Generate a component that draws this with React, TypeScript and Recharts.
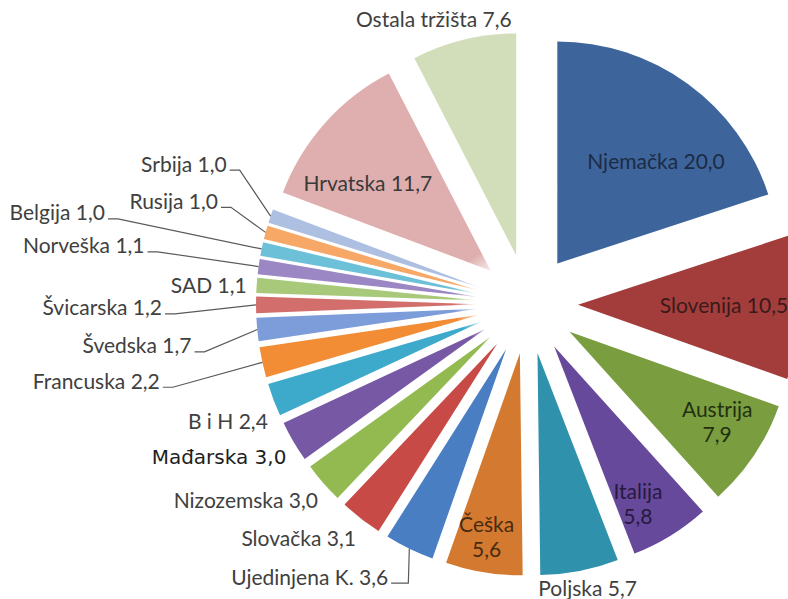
import React from 'react';
import { PieChart, Pie, Cell } from 'recharts';

// udio tržišta (%), redom u smjeru kazaljke od 12 sati
const countries = [
  'Njemačka', 'Slovenija', 'Austrija', 'Italija', 'Poljska', 'Češka',
  'Ujedinjena K.', 'Slovačka', 'Nizozemska', 'Mađarska', 'B i H', 'Francuska',
  'Švedska', 'Švicarska', 'SAD', 'Norveška', 'Belgija', 'Rusija', 'Srbija',
  'Hrvatska', 'Ostala tržišta',
];
const shares = [
  20.0, 10.5, 7.9, 5.8, 5.7, 5.6,
  3.6, 3.1, 3.0, 3.0, 2.4, 2.2,
  1.7, 1.2, 1.1, 1.1, 1.0, 1.0, 1.0,
  11.7, 7.6,
];
const sliceColors = [
  '#3E659B', '#A33D3C', '#7A9D40', '#66499A', '#3091AC', '#D47A30',
  '#4A7EC3', '#C84A46', '#93BA50', '#7758A5', '#3EAACB', '#F28C35',
  '#7D9CDA', '#D26F6C', '#A8C87A', '#9B87C3', '#6CC0D8', '#F7A867', '#AEC0E2',
  '#DFAEAE', '#D2DEBA',
];

const data = countries.map((name, i) => ({ name, value: shares[i] }));

const W = 788;
const H = 599;
const CX = 528;
const CY = 304;
const R = 222;
const EXPLODE = 50;
const RAD = Math.PI / 180;

// label placement: distance from slice centre, angle shift (deg, clockwise), anchor
const labelLayout: { r: number; shift: number; anchor: 'middle' | 'end'; twoLines?: boolean; color?: string }[] = [
  { r: 143, shift: 7.7, anchor: 'middle', color: '#1C2B45' },
  { r: 146, shift: -0.7, anchor: 'middle', color: '#3A1A1A' },
  { r: 172, shift: -2.9, anchor: 'middle', twoLines: true, color: '#22300F' },
  { r: 177, shift: 3.4, anchor: 'middle', twoLines: true, color: '#261A40' },
  { r: 240, shift: -1.1, anchor: 'middle' },
  { r: 185, shift: 1.0, anchor: 'middle', twoLines: true, color: '#4A2A10' },
  { r: 256, shift: 1.6, anchor: 'end' },
  { r: 240, shift: -1.8, anchor: 'end' },
  { r: 237, shift: -2.2, anchor: 'end' },
  { r: 236, shift: -2.4, anchor: 'end' },
  { r: 235, shift: -4.1, anchor: 'end' },
  { r: 326, shift: 0.8, anchor: 'end' },
  { r: 289, shift: -1.8, anchor: 'end' },
  { r: 316, shift: -0.3, anchor: 'end' },
  { r: 232, shift: 0, anchor: 'end' },
  { r: 338, shift: 1.0, anchor: 'end' },
  { r: 383, shift: 0.7, anchor: 'end' },
  { r: 277, shift: 3.8, anchor: 'end' },
  { r: 283, shift: 7.3, anchor: 'end' },
  { r: 151, shift: -6.1, anchor: 'middle', color: '#3A3A3A' },
  { r: 251, shift: -5.5, anchor: 'middle' },
];
const withLeader = [6, 11, 12, 13, 15, 16, 17, 18];

const total = shares.reduce((a, b) => a + b, 0);
const midAngles = shares.map((v, i) => {
  const before = shares.slice(0, i).reduce((a, b) => a + b, 0);
  return 90 - ((before + v / 2) / total) * 360;
});
const offsets = midAngles.map((a) => ({
  dx: EXPLODE * Math.cos(a * RAD),
  dy: -EXPLODE * Math.sin(a * RAD),
}));

const fmt = (v: number) => v.toFixed(1).replace('.', ',');

const renderLabel = (props: any) => {
  const { cx, cy, midAngle, index } = props;
  const lay = labelLayout[index];
  const sx = cx + offsets[index].dx;
  const sy = cy + offsets[index].dy;
  const a = (midAngle - lay.shift) * RAD;
  const x = sx + lay.r * Math.cos(a);
  const y = sy - lay.r * Math.sin(a);
  const name = countries[index];
  const val = fmt(shares[index]);
  const isHu = name === 'Mađarska';
  const fill = lay.color || (isHu ? '#1E1E1E' : '#404040');
  const font = isHu ? '"DejaVu Sans", sans-serif' : 'Lato, sans-serif';
  const size = isHu ? 20 : 21;

  let leader = null;
  if (withLeader.includes(index)) {
    const ox = sx + R * Math.cos(midAngle * RAD);
    const oy = sy - R * Math.sin(midAngle * RAD);
    const by = y + 7;
    const mx = index === 6 ? ox - 1 : x + 13;
    leader = (
      <polyline
        points={`${x + 3},${by} ${mx},${by} ${ox},${oy}`}
        fill="none"
        stroke="#5A5A5A"
        strokeWidth={1.2}
      />
    );
  }

  return (
    <g key={`lbl-${index}`}>
      {leader}
      {lay.twoLines ? (
        <text x={x} y={y} textAnchor={lay.anchor} fill={fill} fontFamily={font} fontSize={size} dominantBaseline="central">
          <tspan x={x} dy={-12.5}>{name}</tspan>
          <tspan x={x} dy={25}>{val}</tspan>
        </text>
      ) : (
        <text x={x} y={y} textAnchor={lay.anchor} fill={fill} fontFamily={font} fontSize={size} dominantBaseline="central">
          {`${name} ${val}`}
        </text>
      )}
    </g>
  );
};

export default function App() {
  return (
    <div style={{ position: 'absolute', left: 0, top: 0, width: W, height: H, background: '#fff' }}>
      <PieChart width={W} height={H} margin={{ top: 0, right: 0, bottom: 0, left: 0 }}>
        {data.map((_, i) => (
          <Pie
            key={`slice-${i}`}
            data={data}
            dataKey="value"
            nameKey="name"
            cx={CX + offsets[i].dx}
            cy={CY + offsets[i].dy}
            outerRadius={R}
            startAngle={90}
            endAngle={-270}
            stroke="none"
            isAnimationActive={false}
          >
            {data.map((d, j) => (
              <Cell key={d.name} fill={j === i ? sliceColors[j] : 'transparent'} />
            ))}
          </Pie>
        ))}
        <Pie
          data={data}
          dataKey="value"
          nameKey="name"
          cx={CX}
          cy={CY}
          outerRadius={R}
          startAngle={90}
          endAngle={-270}
          stroke="none"
          fill="transparent"
          label={renderLabel}
          labelLine={false}
          isAnimationActive={false}
        />
      </PieChart>
      {/* soft white glow where the slice tips meet */}
      <div
        style={{
          position: 'absolute',
          left: 502 - 50,
          top: 298 - 50,
          width: 100,
          height: 100,
          borderRadius: '50%',
          pointerEvents: 'none',
          background: 'radial-gradient(circle closest-side, rgba(255,255,255,1) 0%, rgba(255,255,255,1) 45%, rgba(255,255,255,0) 100%)',
        }}
      />
    </div>
  );
}
